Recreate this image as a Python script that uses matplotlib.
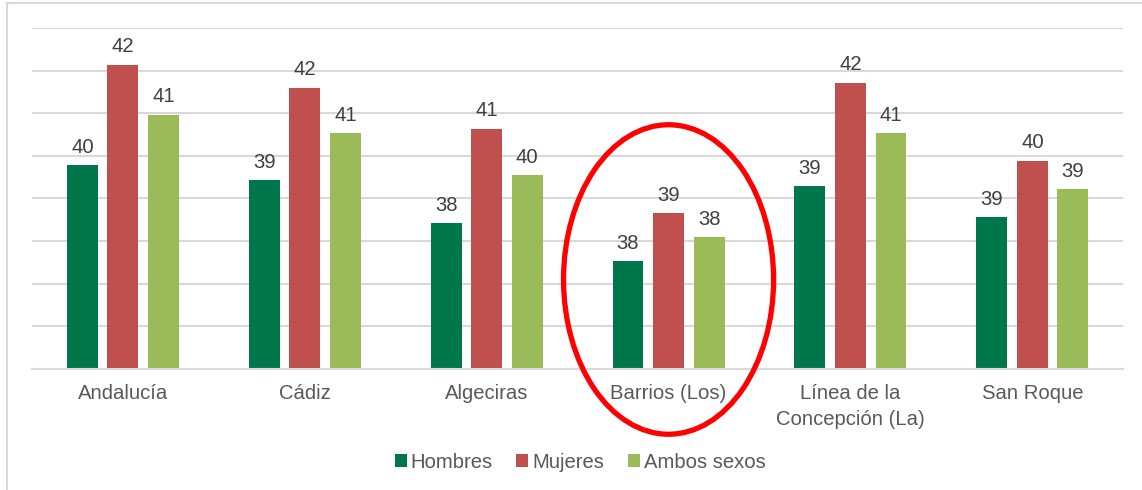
import numpy as np
import matplotlib.pyplot as plt
from matplotlib.patches import Ellipse
from matplotlib.lines import Line2D

# Edad media por sexo
territorios = ['Andalucía', 'Cádiz', 'Algeciras', 'Barrios (Los)',
               'Línea de la\nConcepción (La)', 'San Roque']
hombres = [39.78, 39.43, 38.42, 37.53, 39.29, 38.56]
mujeres = [42.14, 41.60, 40.64, 38.65, 41.72, 39.89]
ambos = [40.97, 40.53, 39.54, 38.09, 40.53, 39.22]
series = ['Hombres', 'Mujeres', 'Ambos sexos']
colores = ['#00774A', '#C0504D', '#9BBB59']
resaltado = 'Barrios (Los)'

plt.rcParams['font.family'] = ['Liberation Sans', 'DejaVu Sans']
gris = '#595959'
fs = 14.6

fig = plt.figure(figsize=(11.42, 4.9), dpi=100)
ax = fig.add_axes([0.028, 0.2469, 0.9556, 0.696])

x = np.arange(len(territorios))
ancho = 0.17
paso = 0.223
for i, (vals, nombre, col) in enumerate(zip([hombres, mujeres, ambos], series, colores)):
    pos = x + (i - 1) * paso
    ax.bar(pos, vals, width=ancho, color=col, label=nombre, zorder=2)
    for p, v in zip(pos, vals):
        ax.text(p, v + 0.2, f'{v:.0f}', ha='center', va='bottom',
                fontsize=fs, color='#404040')

ax.set_ylim(35, 43)
ax.set_xlim(-0.5, len(territorios) - 0.5)
ax.set_yticks(np.arange(35, 44, 1))
ax.yaxis.grid(True, color='#D9D9D9', linewidth=1.5, zorder=0)
ax.tick_params(axis='y', left=False, labelleft=False)
ax.set_xticks(x)
ax.set_xticklabels(territorios, fontsize=fs, color=gris, linespacing=1.45)
ax.tick_params(axis='x', length=0, pad=11)
for s in ['top', 'right', 'left']:
    ax.spines[s].set_visible(False)
ax.spines['bottom'].set_color('#D9D9D9')
ax.spines['bottom'].set_linewidth(1.5)

# círculo rojo sobre Los Barrios
ix = territorios.index(resaltado)
elipse = Ellipse((ix, 37.1), width=1.155, height=7.26, fill=False,
                 edgecolor='#FF0000', linewidth=3.8, clip_on=False, zorder=5)
ax.add_patch(elipse)

leg = fig.legend(loc='center', bbox_to_anchor=(0.508, 0.057), ncol=3,
                 frameon=False, fontsize=fs, handlelength=0.6, handleheight=0.6,
                 handletextpad=0.2, columnspacing=1.15)
for t in leg.get_texts():
    t.set_color(gris)

# marco del gráfico
fig.add_artist(Line2D([0.0065, 0.0065], [0, 0.9935], transform=fig.transFigure,
                      color='#D9D9D9', linewidth=1.5))
fig.add_artist(Line2D([0.0065, 1], [0.9935, 0.9935], transform=fig.transFigure,
                      color='#D9D9D9', linewidth=1.5))

fig.savefig('out.png', dpi=100, facecolor='white')
